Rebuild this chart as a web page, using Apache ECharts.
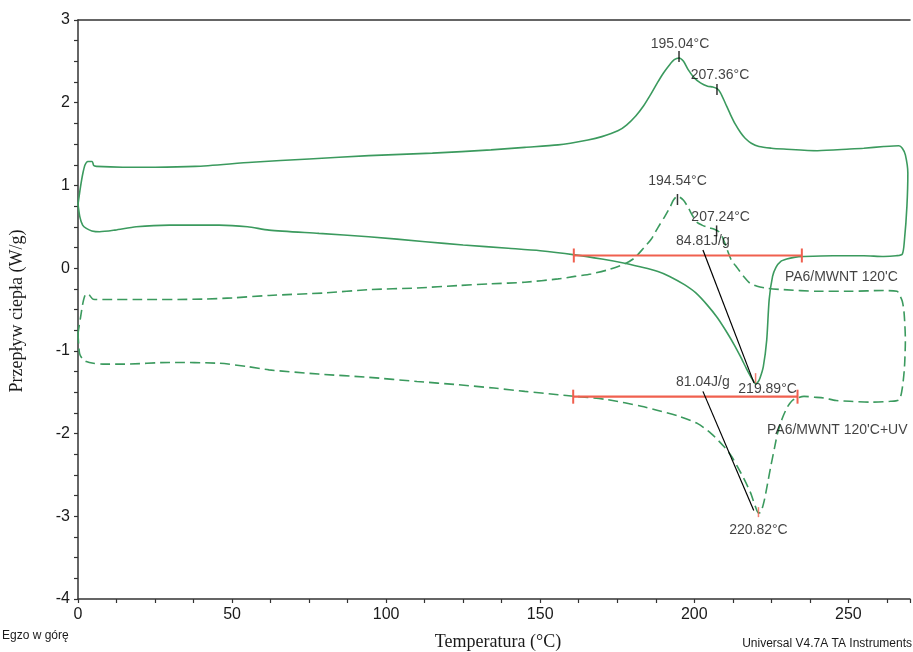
<!DOCTYPE html>
<html>
<head>
<meta charset="utf-8">
<script src="https://cdn.jsdelivr.net/npm/echarts@6/dist/echarts.min.js"></script>
<style>html,body{margin:0;padding:0;background:#fff}#c{width:913px;height:652px}</style>
</head>
<body>
<div id="c"></div>
<script>
// ---- Data ----
// PA6/MWNT 120'C (solid): heating branch, then cooling branch (loop)
const s1HeatT = [0.0,0.6,1.5,2.7,4.5,7,12,18.9,29.7,45.8,55,62,78.2,94.3,112.7,125,139.6,150,161.2,170,177.4,182,188.2,192,196.8,200.5,204.3,207.5,210.8,213,215,217,218.3,219.3,219.9,220.6,221.3,222.4,223.5,224.3,225.4,226.5,228,230,232.4,235.6,245,255,261.5,265.5,267.5,268.2,269,269.3,268.5,267.5,266.4];
const s1HeatV = [0.77,0.62,0.52,0.48,0.45,0.44,0.46,0.50,0.52,0.52,0.50,0.46,0.42,0.38,0.32,0.28,0.24,0.21,0.16,0.11,0.06,0.02,-0.04,-0.10,-0.20,-0.30,-0.45,-0.60,-0.79,-0.93,-1.07,-1.22,-1.31,-1.37,-1.40,-1.38,-1.33,-1.19,-0.87,-0.38,-0.10,0.01,0.08,0.11,0.13,0.14,0.15,0.15,0.14,0.15,0.17,0.34,0.75,1.15,1.37,1.45,1.48];
const s1CoolT = [261.5,255,250.5,240,229,225,221,218.5,216.5,215,213.3,211.7,210,208.5,207.4,206,204.3,202,200,198,196.5,195.04,193.5,192,190,188,186,183.5,181,178,175.2,170,165.5,155.8,145,134,115,94.4,75,56.5,38,25,14.5,6,5.1,4.6,3.2,2.3,1.6,0.8,0.0];
const s1CoolV = [1.47,1.45,1.44,1.42,1.44,1.45,1.47,1.51,1.57,1.64,1.74,1.86,2.00,2.12,2.17,2.19,2.20,2.24,2.30,2.40,2.50,2.54,2.52,2.46,2.36,2.24,2.11,1.96,1.84,1.73,1.66,1.59,1.55,1.49,1.46,1.43,1.39,1.36,1.32,1.28,1.23,1.22,1.22,1.23,1.24,1.29,1.29,1.25,1.15,0.98,0.77];
// PA6/MWNT 120'C+UV (dashed)
const s2HeatT = [0,0.5,1.5,2.7,5,8.1,15,29.7,45.8,55,62,78,94.4,110,123.5,135,145,155.8,161.2,172,182.8,188.2,195,201.1,205.5,209.7,212,214,216.3,218.3,219.8,220.82,221.6,222.7,223.8,224.8,226,227,228.5,230.2,231.8,233.4,235.6,239,242,246,250.5,257,263.6,266.5,267.5,268.2,268.5,268.1,267.5,266.3,265.8];
const s2HeatV = [-0.79,-1.03,-1.10,-1.13,-1.15,-1.16,-1.16,-1.14,-1.15,-1.19,-1.23,-1.28,-1.32,-1.37,-1.41,-1.45,-1.49,-1.53,-1.55,-1.59,-1.67,-1.72,-1.79,-1.88,-2.00,-2.16,-2.27,-2.40,-2.56,-2.72,-2.88,-2.96,-2.95,-2.81,-2.60,-2.40,-2.18,-2.00,-1.82,-1.68,-1.60,-1.57,-1.55,-1.56,-1.57,-1.60,-1.61,-1.62,-1.61,-1.59,-1.45,-1.20,-0.87,-0.55,-0.40,-0.30,-0.28];
const s2CoolT = [261.5,250.5,240,229,224,220.4,218,216,214,212,210.5,209.3,208,206.5,204.5,202.5,201,199.5,198.2,196.5,194.54,193.2,192.3,190.5,188.2,186,183.5,180.5,177.3,172,166.5,161.2,155.8,145,134,123.5,110,94.4,80,62,50,40.4,18.9,8,4.9,3.2,2.3,1.6,0.8,0];
const s2CoolV = [-0.27,-0.28,-0.28,-0.26,-0.245,-0.22,-0.18,-0.10,0.0,0.10,0.24,0.36,0.44,0.47,0.49,0.52,0.55,0.63,0.72,0.82,0.87,0.82,0.75,0.63,0.49,0.35,0.24,0.12,0.05,-0.02,-0.07,-0.10,-0.13,-0.17,-0.19,-0.21,-0.24,-0.26,-0.30,-0.33,-0.36,-0.375,-0.38,-0.38,-0.375,-0.31,-0.33,-0.42,-0.60,-0.79];

// Integration baselines
const base1T = [160.9, 234.9], base1V = [0.153, 0.153];
const base2T = [160.7, 233.5], base2V = [-1.554, -1.554];
// Enthalpy labels and their connector lines (start at label, end at the minimum)
const enthLabels = ['84.81J/g', '81.04J/g'];
const conn1T = [202.8, 219.4], conn1V = [0.22, -1.39];
const conn2T = [202.8, 219.3], conn2V = [-1.49, -2.93];
// Peak (exo) marks
const peakT = [195.04, 207.36, 194.54, 207.24];
const peakV = [2.56, 2.16, 0.83, 0.45];
const peakLabels = ['195.04°C', '207.36°C', '194.54°C', '207.24°C'];
// Minimum (endo) marks
const minT = [219.89, 220.82];
const minV = [-1.33, -2.95];
const minLabels = ['219.89°C', '220.82°C'];
// Sample names
const sampleNames = ["PA6/MWNT 120'C", "PA6/MWNT 120'C+UV"];
const sampleT = [229.4, 223.6];
const sampleV = [-0.11, -1.96];
// Axis ticks
const xTicks = [0, 50, 100, 150, 200, 250];
const yTicks = [-4, -3, -2, -1, 0, 1, 2, 3];

const zip = (a, b) => a.map((v, i) => [v, b[i]]);
const GREEN = '#3b9a5e', RED = '#f0604f', BLACK = '#000';

const chart = echarts.init(document.getElementById('c'), null, {renderer: 'canvas'});
const s1 = zip(s1HeatT, s1HeatV).concat(zip(s1CoolT, s1CoolV));
const s2 = zip(s2HeatT, s2HeatV).concat(zip(s2CoolT, s2CoolV));

const txt = {fontFamily: 'Liberation Sans, Arial, sans-serif', fontSize: 14, color: '#111'};
const peakOffsets = [[1, -12], [3, -14], [0, -18], [4, -14]];
const minOffsets = [[12, 11], [0, 18]];

chart.setOption({
  animation: false,
  backgroundColor: '#fff',
  grid: {left: 78, top: 20, right: 0, bottom: 53},
  xAxis: [{
    type: 'value', min: 0, max: 270, interval: 12.5,
    axisLine: {onZero: false, lineStyle: {color: '#333', width: 1.5}},
    axisTick: {length: 4, lineStyle: {color: '#333', width: 1.2}},
    axisLabel: {fontFamily: 'Liberation Sans, Arial, sans-serif', fontSize: 16, color: '#1a1a1a', margin: 8,
      formatter: v => xTicks.indexOf(v) >= 0 ? String(v) : ''},
    splitLine: {show: false}
  }, {
    type: 'value', min: 0, max: 270, position: 'top',
    axisLine: {show: true, onZero: false, lineStyle: {color: '#333', width: 1.5}},
    axisTick: {show: false}, axisLabel: {show: false}, splitLine: {show: false}
  }],
  yAxis: {
    type: 'value', min: -4, max: 3, interval: 0.25,
    axisLine: {show: true, onZero: false, lineStyle: {color: '#333', width: 1.5}},
    axisTick: {length: 4, lineStyle: {color: '#333', width: 1.2}},
    axisLabel: {fontFamily: 'Liberation Sans, Arial, sans-serif', fontSize: 16, color: '#1a1a1a', margin: 8,
      formatter: v => yTicks.indexOf(v) >= 0 ? String(v) : ''},
    splitLine: {show: false}
  },
  graphic: [
    {type: 'text', x: 17.5, y: 311, rotation: Math.PI / 2,
      style: {text: 'Przepływ ciepła (W/g)', font: '18px "Liberation Serif", "Times New Roman", serif', fill: '#1a1a1a', align: 'center', verticalAlign: 'middle'}},
    {type: 'text', x: 498, y: 642,
      style: {text: 'Temperatura (°C)', font: '18px "Liberation Serif", "Times New Roman", serif', fill: '#1a1a1a', align: 'center', verticalAlign: 'middle'}},
    {type: 'text', x: 2, y: 636,
      style: {text: 'Egzo w górę', font: '12px "Liberation Sans", Arial, sans-serif', fill: '#1a1a1a', align: 'left', verticalAlign: 'middle'}},
    {type: 'text', x: 912, y: 644,
      style: {text: 'Universal V4.7A TA Instruments', font: '12px "Liberation Sans", Arial, sans-serif', fill: '#1a1a1a', align: 'right', verticalAlign: 'middle'}}
  ],
  series: [
    {type: 'line', data: s1, showSymbol: false, smooth: 0.25, lineStyle: {color: GREEN, width: 1.6}, z: 2},
    {type: 'line', data: s2, showSymbol: false, smooth: 0.25, lineStyle: {color: GREEN, width: 1.6, type: [10, 5]}, z: 2},
    {type: 'line', data: zip(base1T, base1V), symbol: 'rect', symbolSize: [2, 14], showSymbol: true,
      itemStyle: {color: RED}, lineStyle: {color: RED, width: 2.2}, z: 3},
    {type: 'line', data: zip(base2T, base2V), symbol: 'rect', symbolSize: [2, 14], showSymbol: true,
      itemStyle: {color: RED}, lineStyle: {color: RED, width: 2.2}, z: 3},
    {type: 'line', data: zip(conn1T, conn1V), showSymbol: false, lineStyle: {color: BLACK, width: 1.2}, z: 4},
    {type: 'line', data: zip(conn2T, conn2V), showSymbol: false, lineStyle: {color: BLACK, width: 1.2}, z: 4},
    {type: 'scatter', symbol: 'rect', symbolSize: [1.5, 11], itemStyle: {color: BLACK}, z: 5,
      data: peakT.map((t, i) => ({value: [t, peakV[i]],
        label: Object.assign({show: true, position: 'inside', offset: peakOffsets[i], formatter: peakLabels[i]}, txt)}))},
    {type: 'scatter', symbol: 'rect', symbolSize: [1.5, 10], itemStyle: {color: RED}, z: 5,
      data: minT.map((t, i) => ({value: [t, minV[i]],
        label: Object.assign({show: true, position: 'inside', offset: minOffsets[i], formatter: minLabels[i]}, txt)}))},
    {type: 'scatter', symbolSize: 0, z: 5,
      data: [[conn1T[0], conn1V[0]], [conn2T[0], conn2V[0]]].map((p, i) => ({value: p,
        label: Object.assign({show: true, position: 'inside', offset: [0, -9], formatter: enthLabels[i]}, txt)}))},
    {type: 'scatter', symbolSize: 0, z: 5,
      data: sampleT.map((t, i) => ({value: [t, sampleV[i]],
        label: Object.assign({show: true, position: 'right', distance: 0, formatter: sampleNames[i]}, txt)}))}
  ]
});
</script>
</body>
</html>
